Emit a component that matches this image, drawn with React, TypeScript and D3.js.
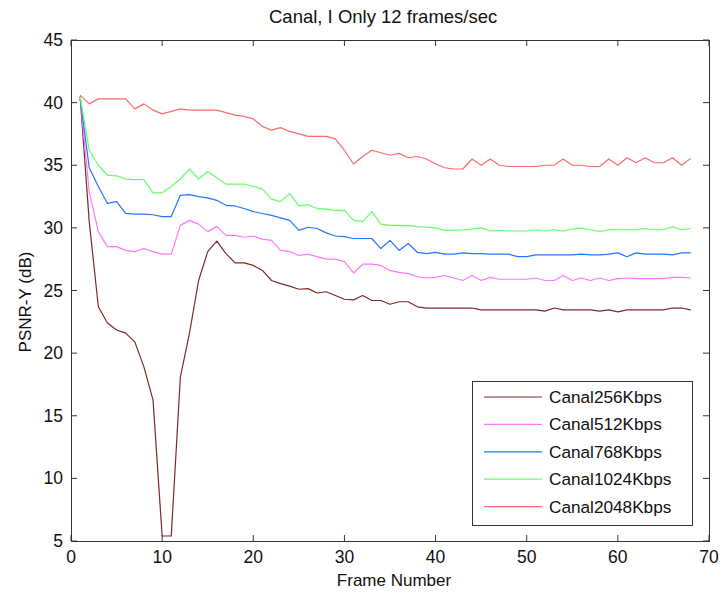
import React from "react";
import * as d3 from "d3";

const seriesNames = ["Canal256Kbps", "Canal512Kbps", "Canal768Kbps", "Canal1024Kbps", "Canal2048Kbps"];
const seriesColors = ["#7b2a2a", "#ff77ff", "#2277ff", "#66ff66", "#ff6a6a"];

const canal256 = [
  40.5, 30.5, 23.7, 22.4, 21.85, 21.6, 20.9, 18.9, 16.25, 5.4,
  5.4, 18.1, 21.6, 25.8, 28.1, 28.95, 27.95, 27.2, 27.2, 27.0,
  26.6, 25.8, 25.55, 25.35, 25.1, 25.15, 24.8, 24.9, 24.6, 24.3,
  24.25, 24.6, 24.2, 24.2, 23.9, 24.1, 24.1, 23.7, 23.6, 23.6,
  23.6, 23.6, 23.6, 23.6, 23.45, 23.45, 23.45, 23.45, 23.45, 23.45,
  23.45, 23.35, 23.6, 23.45, 23.45, 23.45, 23.45, 23.35, 23.45, 23.3,
  23.45, 23.45, 23.45, 23.45, 23.45, 23.6, 23.6, 23.45,
];
const canal512 = [
  40.4, 32.9, 29.7, 28.5, 28.5, 28.2, 28.1, 28.35, 28.1, 27.9,
  27.9, 30.2, 30.6, 30.3, 29.7, 30.1, 29.4, 29.4, 29.25, 29.35,
  29.1, 29.0, 28.2, 28.1, 27.8, 27.9, 27.7, 27.5, 27.5, 27.3,
  26.4, 27.1, 27.1, 27.0, 26.6, 26.45, 26.35, 26.1, 26.0, 26.05,
  26.2, 26.0, 25.8, 26.2, 25.8, 26.05, 25.9, 25.9, 25.9, 25.9,
  26.0, 25.8, 25.8, 26.2, 25.8, 26.0, 25.8, 26.0, 25.8, 25.95,
  26.0, 25.95, 25.95, 25.95, 25.95, 26.05, 26.05, 26.0,
];
const canal768 = [
  40.4, 34.8, 33.3, 31.95, 32.1, 31.15, 31.1, 31.1, 31.05, 30.9,
  30.9, 32.6, 32.65, 32.5, 32.4, 32.2, 31.8, 31.75, 31.55, 31.3,
  31.15, 31.0, 30.8, 30.6, 29.8, 30.05, 29.95, 29.6, 29.35, 29.3,
  29.15, 29.15, 29.15, 28.35, 29.0, 28.2, 28.75, 28.05, 27.95, 28.05,
  27.9, 27.9, 28.0, 27.95, 27.95, 27.9, 27.9, 27.9, 27.7, 27.7,
  27.85, 27.85, 27.85, 27.85, 27.85, 27.9, 27.85, 27.85, 27.9, 28.0,
  27.7, 28.0, 27.9, 27.9, 27.9, 27.85, 28.0, 28.0,
];
const canal1024 = [
  40.5, 36.2, 35.0, 34.2, 34.15, 33.9, 33.85, 33.85, 32.8, 32.8,
  33.3, 33.9, 34.7, 33.9, 34.5, 34.0, 33.5, 33.5, 33.5, 33.3,
  33.1, 32.3, 32.1, 32.75, 31.75, 31.85, 31.55, 31.5, 31.4, 31.4,
  30.6, 30.5, 31.3, 30.3, 30.2, 30.2, 30.2, 30.1, 30.05, 30.0,
  29.8, 29.8, 29.85, 29.9, 30.0, 29.75, 29.8, 29.75, 29.75, 29.75,
  29.85, 29.75, 29.85, 29.75, 29.9, 30.0, 29.85, 29.7, 29.85, 29.85,
  29.85, 29.85, 29.95, 29.85, 29.85, 30.1, 29.85, 29.95,
];
const canal2048 = [
  40.6, 39.9, 40.3, 40.3, 40.3, 40.3, 39.5, 39.9, 39.4, 39.1,
  39.3, 39.5, 39.4, 39.4, 39.4, 39.4, 39.2, 39.0, 38.9, 38.7,
  38.1, 37.8, 38.0, 37.7, 37.5, 37.3, 37.3, 37.3, 37.1, 36.2,
  35.1, 35.7, 36.2, 36.0, 35.8, 35.95, 35.6, 35.7, 35.5, 35.1,
  34.8, 34.7, 34.7, 35.5, 35.0, 35.5, 35.0, 34.9, 34.9, 34.9,
  34.9, 35.0, 35.0, 35.5, 35.0, 35.0, 34.9, 34.9, 35.5, 35.0,
  35.6, 35.2, 35.6, 35.2, 35.2, 35.6, 35.0, 35.55,
];
const seriesValues = [canal256, canal512, canal768, canal1024, canal2048];

const xTicks = [0, 10, 20, 30, 40, 50, 60, 70];
const yTicks = [5, 10, 15, 20, 25, 30, 35, 40, 45];
const titleText = "Canal, I Only 12 frames/sec";
const xLabel = "Frame Number";
const yLabel = "PSNR-Y (dB)";

const W = 722;
const H = 593;
const L = 71, R = 709, T = 40, B = 541;
const FONT = "'Liberation Sans', Arial, sans-serif";

export default function App() {
  const x = d3.scaleLinear().domain([0, 70]).range([L, R]);
  const y = d3.scaleLinear().domain([5, 45]).range([B, T]);
  const line = d3
    .line<number>()
    .x((_, i) => x(i + 1))
    .y((v) => y(v));
  const tk = 6;
  const axisColor = "#333";
  const legX = 472.5, legY = 381.5, legW = 220, legH = 144;
  const legRow = (i: number) => 397 + i * 27.4;

  return (
    <svg
      width={W}
      height={H}
      style={{ position: "absolute", left: 0, top: 0, background: "#fff" }}
      fontFamily={FONT}
    >
      <rect x={0} y={0} width={W} height={H} fill="#fff" />
      <text x={269} y={23} fontSize={18.5} fill="#111">
        {titleText}
      </text>

      {/* series */}
      <g>
        {seriesValues.map((vals, si) => (
          <path
            key={si}
            d={line(vals) || ""}
            fill="none"
            stroke={seriesColors[si]}
            strokeWidth={1.2}
            strokeLinejoin="round"
          />
        ))}
      </g>

      {/* box */}
      <rect x={L + 0.5} y={T + 0.5} width={R - L} height={B - T} fill="none" stroke={axisColor} strokeWidth={1} />

      {/* x ticks */}
      {xTicks.map((t) => (
        <g key={"x" + t}>
          <line x1={x(t)} x2={x(t)} y1={B} y2={B - tk} stroke={axisColor} />
          <line x1={x(t)} x2={x(t)} y1={T} y2={T + tk} stroke={axisColor} />
          <text x={x(t)} y={563} fontSize={17.5} textAnchor="middle" fill="#111">
            {t}
          </text>
        </g>
      ))}
      {/* y ticks */}
      {yTicks.map((t) => (
        <g key={"y" + t}>
          <line x1={L} x2={L + tk} y1={y(t)} y2={y(t)} stroke={axisColor} />
          <line x1={R} x2={R - tk} y1={y(t)} y2={y(t)} stroke={axisColor} />
          <text x={63} y={y(t) + 6} fontSize={17.5} textAnchor="end" fill="#111">
            {t}
          </text>
        </g>
      ))}

      <text x={394} y={586} fontSize={17} textAnchor="middle" fill="#111">
        {xLabel}
      </text>
      <text
        transform={`translate(31,${302}) rotate(-90)`}
        fontSize={17}
        textAnchor="middle"
        fill="#111"
      >
        {yLabel}
      </text>

      {/* legend */}
      <rect x={legX} y={legY} width={legW} height={legH} fill="#fff" stroke={axisColor} strokeWidth={1} />
      {seriesNames.map((n, i) => (
        <g key={n}>
          <line x1={484} x2={542} y1={legRow(i)} y2={legRow(i)} stroke={seriesColors[i]} strokeWidth={1.2} />
          <text x={549} y={legRow(i) + 6} fontSize={17.2} fill="#111">
            {n}
          </text>
        </g>
      ))}
    </svg>
  );
}
